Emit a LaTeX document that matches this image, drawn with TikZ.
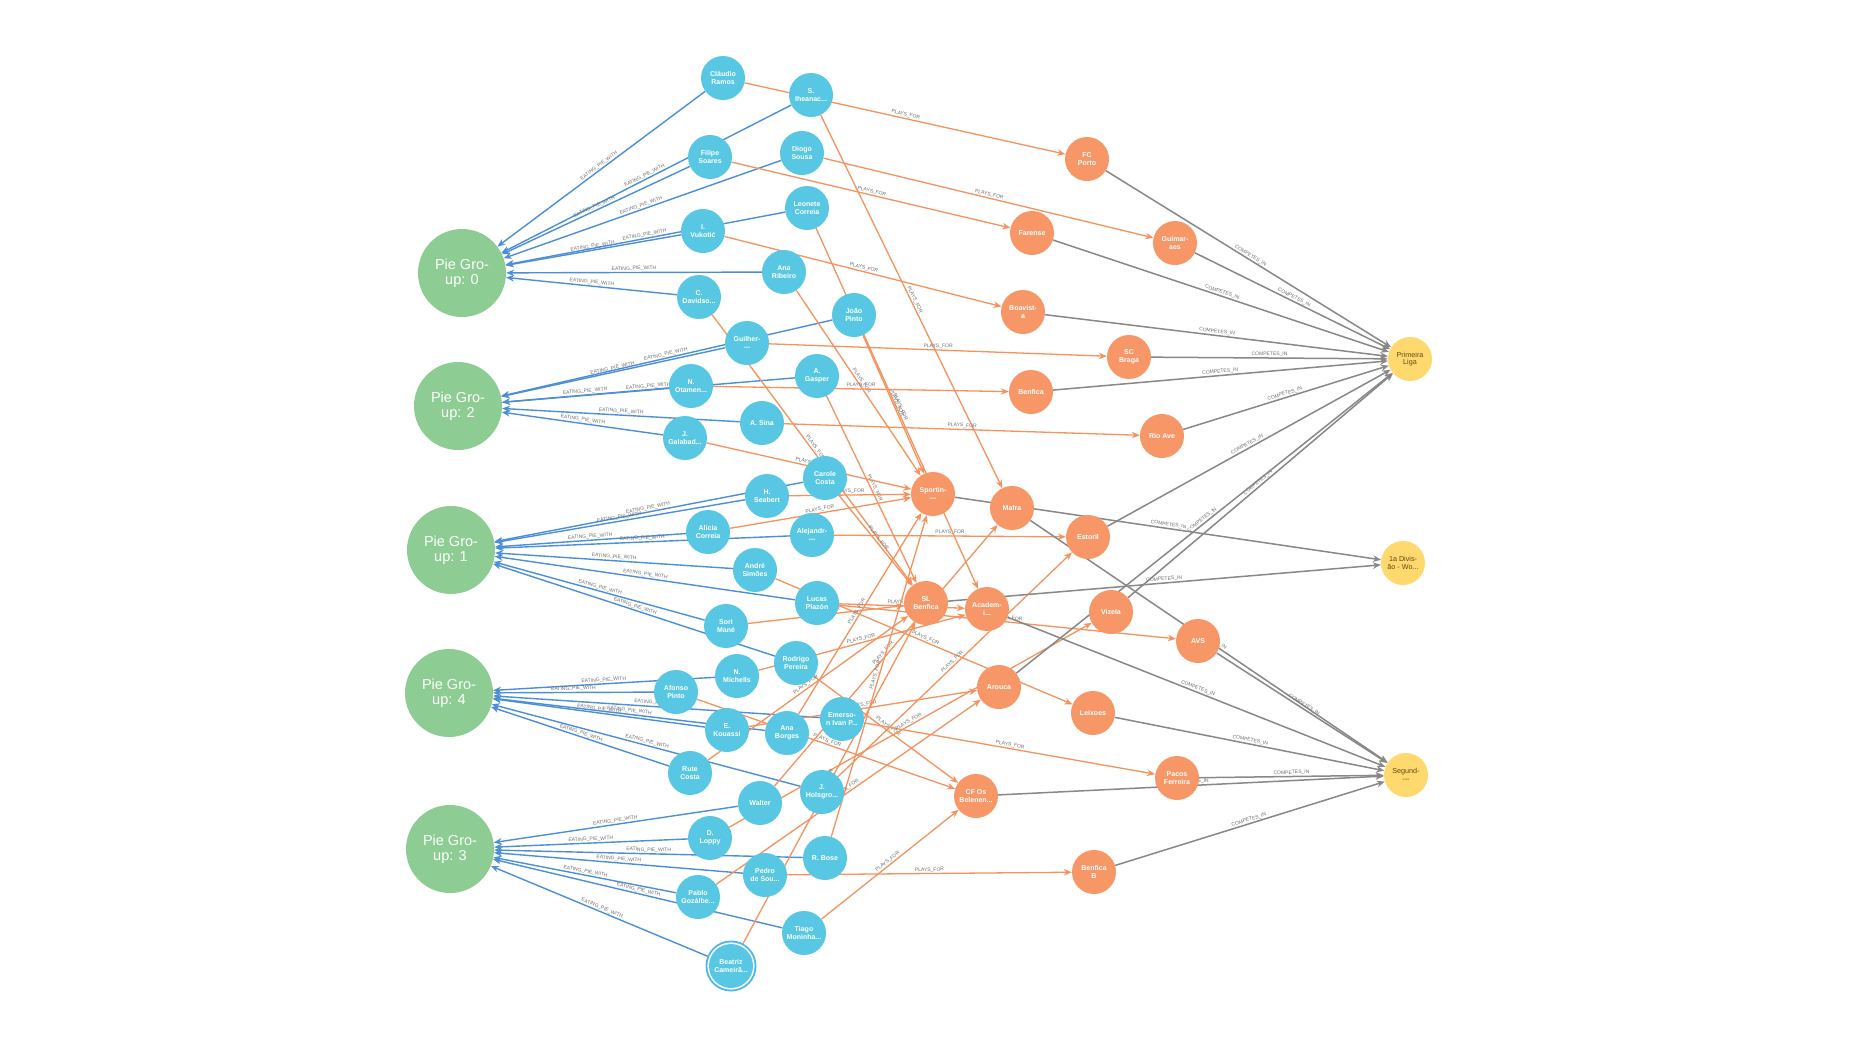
\documentclass[tikz,border=0pt]{standalone}
\usepackage{fontspec}
\setmainfont{Liberation Sans}
\usetikzlibrary{arrows.meta}
\pgfdeclarelayer{bg}
\pgfdeclarelayer{edges}
\pgfsetlayers{bg,edges,main}
\definecolor{pblue}{HTML}{57C7E3}
\definecolor{porange}{HTML}{F79767}
\definecolor{pgreen}{HTML}{8DCC93}
\definecolor{pyellow}{HTML}{FFD86E}
\definecolor{eblue}{HTML}{4C8EDA}
\definecolor{eorange}{HTML}{F5925F}
\definecolor{egray}{HTML}{888888}
\definecolor{ltext}{HTML}{604A0E}
\definecolor{elabel}{HTML}{6F6F6F}
\definecolor{ringblue}{HTML}{4DB6EC}
\newcommand{\eatlab}{EATING\_PIE\_WITH}
\newcommand{\playlab}{PLAYS\_FOR}
\newcommand{\complab}{COMPETES\_IN}
\begin{document}
\begin{tikzpicture}[x=1pt,y=-1pt,
  player/.style={circle,fill=pblue,minimum size=44pt,inner sep=0pt,text=white,font=\fontsize{7}{7.6}\selectfont\bfseries,align=center},
  team/.style={circle,fill=porange,minimum size=44pt,inner sep=0pt,text=white,font=\fontsize{7}{7.6}\selectfont\bfseries,align=center},
  league/.style={circle,fill=pyellow,minimum size=44pt,inner sep=0pt,text=ltext,font=\fontsize{7.2}{7.6}\selectfont,align=center},
  pgroup/.style={circle,fill=pgreen,minimum size=88pt,inner sep=0pt,text=white,font=\fontsize{14.5}{15}\selectfont,align=center},
  elab/.style={midway,sloped,above,inner sep=0.8pt,font=\fontsize{5}{5}\selectfont,text=elabel},
  eat/.style={draw=eblue,line width=1.4pt,-{Stealth[length=8pt,width=6.5pt]}},
  play/.style={draw=eorange,line width=1.3pt,-{Stealth[length=8pt,width=6.5pt]}},
  comp/.style={draw=egray,line width=1.5pt,-{Stealth[length=8pt,width=6.5pt]}}
]
\begin{pgfonlayer}{bg}
\fill[white] (0,0) rectangle (1856,1037);
\end{pgfonlayer}
\useasboundingbox (0,0) rectangle (1856,1037);

% pie groups
\node[pgroup] (pg0) at (462,273) {Pie Gro-\\up: 0};
\node[pgroup] (pg2) at (458,406) {Pie Gro-\\up: 2};
\node[pgroup] (pg1) at (451,550) {Pie Gro-\\up: 1};
\node[pgroup] (pg4) at (449,693) {Pie Gro-\\up: 4};
\node[pgroup] (pg3) at (450,849) {Pie Gro-\\up: 3};

% players
\node[player] (claudio) at (723,78) {Cláudio\\Ramos};
\node[player] (siheanac) at (811,95) {S.\\Iheanac...};
\node[player] (filipe) at (710,157) {Filipe\\Soares};
\node[player] (diogo) at (802,153) {Diogo\\Sousa};
\node[player] (leonete) at (807,208) {Leonete\\Correia};
\node[player] (vukotic) at (703,231) {I.\\Vukotić};
\node[player] (anaribeiro) at (784,272) {Ana\\Ribeiro};
\node[player] (davidso) at (699,297) {C.\\Davidso...};
\node[player] (guilher) at (747,343) {Guilher-\\-{}-{}-};
\node[player] (joaopinto) at (854,315) {João\\Pinto};
\node[player] (otamen) at (691,386) {N.\\Otamen...};
\node[player] (gasper) at (817,376) {A.\\Gasper};
\node[player] (sina) at (762,423) {A. Sina};
\node[player] (galabad) at (685,438) {J.\\Galabad...};
\node[player] (carole) at (825,478) {Carole\\Costa};
\node[player] (seabert) at (767,496) {H.\\Seabert};
\node[player] (alicia) at (708,532) {Alicia\\Correia};
\node[player] (alejandr) at (812,535) {Alejandr-\\-{}-{}-};
\node[player] (andre) at (755,570) {André\\Simões};
\node[player] (lucas) at (817,603) {Lucas\\Plazón};
\node[player] (sori) at (726,626) {Sori\\Mané};
\node[player] (rodrigo) at (796,663) {Rodrigo\\Pereira};
\node[player] (michells) at (737,676) {N.\\Michells};
\node[player] (afonso) at (676,692) {Afonso\\Pinto};
\node[player] (emerson) at (842,719) {Emerso-\\n Ivan P...};
\node[player] (kouassi) at (727,730) {E.\\Kouassi};
\node[player] (anaborges) at (787,733) {Ana\\Borges};
\node[player] (rute) at (690,773) {Rute\\Costa};
\node[player] (holsgro) at (822,792) {J.\\Holsgro...};
\node[player] (walter) at (760,803) {Walter};
\node[player] (loppy) at (710,838) {D.\\Loppy};
\node[player] (bose) at (825,858) {R. Bose};
\node[player] (pedro) at (765,875) {Pedro\\de Sou...};
\node[player] (pablo) at (698,897) {Pablo\\Gozálbe...};
\node[player] (tiago) at (804,933) {Tiago\\Moninha...};
\fill[ringblue] (731,966) circle[radius=25.5pt];
\fill[white] (731,966) circle[radius=23.6pt];
\node[player] (beatriz) at (731,966) {Beatriz\\Cameirã...};

% teams
\node[team] (fcporto) at (1087,159) {FC\\Porto};
\node[team] (farense) at (1032,233) {Farense};
\node[team] (guimaraes) at (1175,243) {Guimar-\\aes};
\node[team] (boavista) at (1023,312) {Boavist-\\a};
\node[team] (scbraga) at (1129,357) {SC\\Braga};
\node[team] (benfica) at (1031,392) {Benfica};
\node[team] (rioave) at (1162,436) {Rio Ave};
\node[team] (sporting) at (933,494) {Sportin-\\-{}-{}-};
\node[team] (mafra) at (1012,508) {Mafra};
\node[team] (estoril) at (1088,537) {Estoril};
\node[team] (slbenfica) at (926,603) {SL\\Benfica};
\node[team] (academico) at (987,609) {Academ-\\i...};
\node[team] (vizela) at (1111,612) {Vizela};
\node[team] (avs) at (1198,641) {AVS};
\node[team] (arouca) at (999,687) {Arouca};
\node[team] (leixoes) at (1093,713) {Leixoes};
\node[team] (pacos) at (1177,778) {Pacos\\Ferreira};
\node[team] (cfbel) at (976,796) {CF Os\\Belenen...};
\node[team] (benficab) at (1094,872) {Benfica\\B};

% leagues
\node[league] (primeira) at (1410,359) {Primeira\\Liga};
\node[league] (divisao) at (1403,563) {1a Divis-\\ão - Wo...};
\node[league] (segunda) at (1406,775) {Segund-\\-{}-{}-};

\begin{pgfonlayer}{edges}
\foreach \p in {claudio,siheanac,filipe,diogo,leonete,vukotic,anaribeiro,davidso}
  \draw[eat] (\p) -- node[elab]{\eatlab} (pg0);
\foreach \p in {joaopinto,guilher,gasper,otamen,sina,galabad}
  \draw[eat] (\p) -- node[elab]{\eatlab} (pg2);
\foreach \p in {carole,seabert,alicia,alejandr,andre,lucas,sori,rodrigo}
  \draw[eat] (\p) -- node[elab]{\eatlab} (pg1);
\foreach \p in {michells,afonso,emerson,kouassi,anaborges,rute,holsgro}
  \draw[eat] (\p) -- node[elab]{\eatlab} (pg4);
\foreach \p in {walter,loppy,bose,pedro,pablo,tiago,beatriz}
  \draw[eat] (\p) -- node[elab]{\eatlab} (pg3);

\foreach \a/\b in {claudio/fcporto,siheanac/mafra,filipe/farense,diogo/guimaraes,
  leonete/academico,vukotic/boavista,anaribeiro/sporting,davidso/slbenfica,
  joaopinto/sporting,guilher/scbraga,gasper/slbenfica,otamen/benfica,sina/rioave,
  galabad/sporting,carole/slbenfica,seabert/sporting,alicia/sporting,alejandr/estoril,
  andre/leixoes,lucas/avs,lucas/academico,sori/slbenfica,rodrigo/cfbel,michells/academico,
  afonso/cfbel,emerson/pacos,kouassi/arouca,anaborges/sporting,rute/slbenfica,
  holsgro/estoril,walter/mafra,loppy/vizela,bose/sporting,pedro/benficab,pablo/arouca,
  tiago/cfbel,beatriz/slbenfica}
  \draw[play] (\a) -- node[elab]{\playlab} (\b);

\foreach \t in {fcporto,guimaraes,farense,boavista,scbraga,benfica,rioave,estoril,vizela,arouca}
  \draw[comp] (\t) -- node[elab]{\complab} (primeira);
\foreach \t in {sporting,slbenfica}
  \draw[comp] (\t) -- node[elab]{\complab} (divisao);
\foreach \t in {mafra,avs,academico,leixoes,pacos,cfbel,benficab}
  \draw[comp] (\t) -- node[elab]{\complab} (segunda);
\end{pgfonlayer}
\end{tikzpicture}
\end{document}
